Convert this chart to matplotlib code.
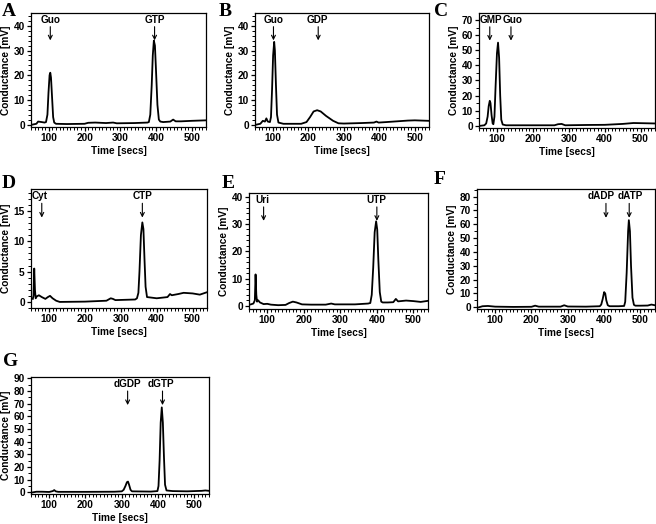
import matplotlib
matplotlib.use("Agg")
import matplotlib.pyplot as plt
from matplotlib.ticker import MultipleLocator, AutoMinorLocator

plt.rcParams['font.family'] = ['Liberation Sans', 'DejaVu Sans']
plt.rcParams['font.weight'] = 'bold'

# ---------------- data ----------------
a_time = [55, 65, 70, 80, 88, 92, 96, 99, 102, 104, 106, 109, 112, 115, 120, 150, 200, 210, 230, 260, 280, 290,
          340, 376, 380, 384, 388, 391, 394, 397, 400, 404, 408, 412, 420, 440, 448, 455, 470, 500, 540]
a_signal = [0.0, 0.3, 1.2, 1.0, 0.8, 1.0, 4, 13, 20, 21, 19, 11, 3, 0.8, 0.3, 0.2, 0.3, 0.7, 0.8, 0.6, 0.8, 0.5,
            0.6, 0.8, 1.0, 4, 16, 28, 34, 32, 22, 8, 2, 1.2, 1.0, 1.2, 2.0, 1.3, 1.3, 1.5, 1.7]

b_time = [55, 65, 72, 78, 82, 86, 92, 95, 98, 101, 104, 106, 109, 112, 116, 130, 180, 195, 205, 215,
          225, 235, 250, 270, 285, 300, 350, 385, 392, 398, 420, 450, 480, 500, 540]
b_signal = [0.0, 0.3, 1.5, 1.2, 2.5, 1.2, 1.0, 3, 14, 28, 33.5, 30, 16, 4, 0.8, 0.3, 0.3, 1.0, 3.0, 5.3,
            5.8, 5.3, 3.5, 1.5, 0.5, 0.4, 0.6, 0.8, 1.2, 0.8, 1.0, 1.3, 1.6, 1.7, 1.5]

c_time = [55, 65, 70, 74, 77, 80, 82, 85, 88, 90, 93, 96, 100, 103, 106, 109, 112, 116, 125, 200, 260, 270,
          280, 290, 350, 400, 450, 480, 500, 540]
c_signal = [0.0, 0.3, 1.5, 6, 13, 16.5, 15, 7, 1.5, 1.0, 6, 25, 48, 55, 45, 20, 4, 0.8, 0.3, 0.3, 0.3, 1.0,
            1.2, 0.3, 0.5, 0.6, 1.2, 1.8, 1.7, 1.5]

d_time = [55, 57, 59, 61, 63, 66, 72, 80, 90, 97, 103, 110, 120, 130, 200, 260, 272, 278, 285, 340,
          345, 349, 352, 356, 360, 363, 366, 369, 373, 400, 430, 437, 442, 460, 475, 500, 520, 530, 540]
d_signal = [0.5, 1.0, 5.5, 2.0, 0.6, 0.9, 1.1, 0.8, 0.5, 0.8, 1.0, 0.6, 0.2, 0.0, 0.05, 0.2, 0.6, 0.5, 0.3, 0.4,
            0.6, 1.5, 5, 11, 13.1, 12, 7, 2.5, 0.8, 0.6, 0.8, 1.3, 1.1, 1.3, 1.5, 1.4, 1.2, 1.4, 1.6]

e_time = [55, 62, 66, 68, 70, 72, 75, 80, 90, 100, 110, 130, 150, 160, 170, 180, 195, 220, 260, 275,
          285, 340, 376, 382, 386, 390, 394, 398, 401, 404, 408, 412, 416, 430, 445, 452, 458, 480, 500, 520, 540]
e_signal = [0.5, 0.8, 2.0, 11.5, 4.0, 1.5, 2.0, 1.2, 0.6, 0.7, 0.4, 0.2, 0.3, 1.0, 1.5, 1.2, 0.5, 0.4, 0.4, 0.8,
            0.5, 0.5, 0.8, 1.0, 4, 14, 27, 31, 28, 17, 5, 1.5, 1.2, 1.2, 1.3, 2.5, 1.6, 1.9, 1.7, 1.4, 1.8]

f_time = [55, 65, 80, 100, 150, 200, 210, 220, 280, 290, 300, 350, 388, 392, 396, 400, 403, 406, 410, 415, 440,
          455, 458, 462, 466, 468, 471, 474, 478, 482, 486, 500, 520, 530, 540]
f_signal = [0.0, 0.8, 1.0, 0.5, 0.3, 0.4, 1.2, 0.5, 0.5, 1.5, 0.6, 0.5, 0.8, 2, 6, 11, 10, 5, 1.5, 0.8, 0.8,
            1.0, 4, 25, 55, 63, 55, 30, 7, 1.8, 1.2, 1.2, 1.3, 2.0, 1.5]

g_time = [55, 65, 80, 100, 110, 114, 118, 125, 140, 200, 280, 300, 305, 310, 314, 317, 320, 324, 328, 380, 398,
          401, 404, 407, 410, 413, 416, 419, 423, 440, 480, 520, 530, 540]
g_signal = [0.0, 0.5, 0.5, 0.3, 1.0, 1.8, 0.8, 0.4, 0.4, 0.4, 0.5, 0.8, 2, 5, 8, 8.5, 6, 2, 0.8, 0.6, 1.0,
            5, 25, 55, 67, 55, 28, 6, 1.5, 1.0, 0.8, 1.2, 1.5, 1.2]

# annotation labels, arrow positions and label positions (seconds)
a_labels, a_marks, a_textx = ['Guo', 'GTP'], [104, 396], [104, 397]
b_labels, b_marks, b_textx = ['Guo', 'GDP'], [102, 228], [102, 227]
c_labels, c_marks, c_textx = ['GMP', 'Guo'], [80, 139], [83, 143]
d_labels, d_marks, d_textx = ['Cyt', 'CTP'], [80, 360], [74, 360]
e_labels, e_marks, e_textx = ['Uri', 'UTP'], [90, 400], [87, 399]
f_labels, f_marks, f_textx = ['dADP', 'dATP'], [405, 469], [393, 472]
g_labels, g_marks, g_textx = ['dGDP', 'dGTP'], [316, 412], [316, 407]

y_ticks_a = [0, 10, 20, 30, 40]
y_ticks_c = [0, 10, 20, 30, 40, 50, 60, 70]
y_ticks_d = [0, 5, 10, 15]
y_ticks_f = [0, 10, 20, 30, 40, 50, 60, 70, 80]
y_ticks_g = [0, 10, 20, 30, 40, 50, 60, 70, 80, 90]
x_ticks = [100, 200, 300, 400, 500]

W, H = 656, 524
fig = plt.figure(figsize=(W / 100, H / 100), dpi=100)

def add_ax(l, r, t, b):
    return fig.add_axes([l / W, 1 - b / H, (r - l) / W, (b - t) / H])

panels = [
    ('A', (31, 206, 13, 127), a_time, a_signal, a_labels, a_marks, a_textx, y_ticks_a, (-1, 45.2), 5, (2, 3)),
    ('B', (255, 429, 13, 127), b_time, b_signal, b_labels, b_marks, b_textx, y_ticks_a, (-1, 45.2), 5, (219, 3)),
    ('C', (479, 655, 13, 128), c_time, c_signal, c_labels, c_marks, c_textx, y_ticks_c, (-1.5, 74.6), 2, (434, 3)),
    ('D', (31, 207, 189, 308), d_time, d_signal, d_labels, d_marks, d_textx, y_ticks_d, (-1.0, 18.6), 5, (2, 175)),
    ('E', (249, 428, 193, 309), e_time, e_signal, e_labels, e_marks, e_textx, y_ticks_a, (-1.2, 41.4), 5, (222, 175)),
    ('F', (477, 655, 189, 309), f_time, f_signal, f_labels, f_marks, f_textx, y_ticks_f, (-1.2, 85.5), 2, (434, 171)),
    ('G', (31, 209, 377, 494), g_time, g_signal, g_labels, g_marks, g_textx, y_ticks_g, (-1.3, 91), 2, (3, 353)),
]

for letter, box, t, s, labels, marks, textx, yt, ylim, yminor, lpos in panels:
    ax = add_ax(*box)
    ax.plot(t, s, color='black', lw=1.3)
    ax.set_xlim(50, 540)
    ax.set_ylim(*ylim)
    ax.set_xticks(x_ticks)
    ax.set_yticks(yt)
    ax.xaxis.set_minor_locator(MultipleLocator(10))
    ax.yaxis.set_minor_locator(AutoMinorLocator(yminor))
    ax.tick_params(which='major', direction='out', length=3, width=0.9, labelsize=7.3, pad=1.5)
    ax.tick_params(which='minor', direction='out', length=2, width=0.7)
    for sp in ax.spines.values():
        sp.set_linewidth(0.9)
    for lab in ax.get_xticklabels() + ax.get_yticklabels():
        lab.set_fontweight('bold')
    ax.set_xlabel('Time [secs]', fontsize=7.3, fontweight='bold', labelpad=2)
    ax.set_ylabel('Conductance [mV]', fontsize=7.3, fontweight='bold', labelpad=2)
    tr = ax.get_xaxis_transform()
    for lab, xm, xt in zip(labels, marks, textx):
        ax.text(xt, 0.94, lab, transform=tr, ha='center', va='center', fontsize=7.2, fontweight='bold')
        ax.annotate('', xy=(xm, 0.76), xytext=(xm, 0.88), xycoords=tr, textcoords=tr,
                    arrowprops=dict(arrowstyle='->', lw=0.8, color='black', shrinkA=0, shrinkB=0,
                                    mutation_scale=7))
    fig.text(lpos[0] / W, 1 - lpos[1] / H, letter, ha='left', va='top', fontsize=14,
             fontweight='bold', family='Liberation Serif')

fig.savefig('out.png', dpi=100)
